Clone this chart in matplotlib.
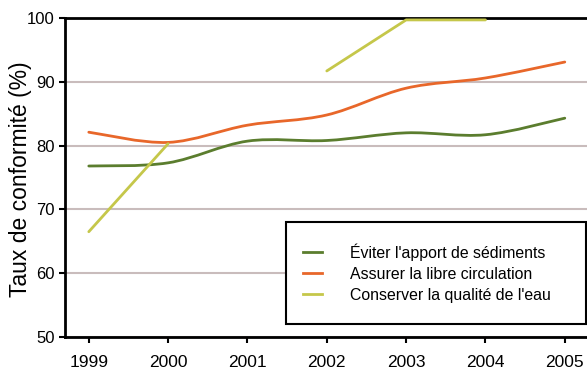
import matplotlib
matplotlib.use("Agg")
import matplotlib.pyplot as plt
from matplotlib.path import Path
from matplotlib.patches import PathPatch, Rectangle
from matplotlib.lines import Line2D
import numpy as np

plt.rcParams['font.family'] = ['Liberation Sans', 'DejaVu Sans']

years = [1999, 2000, 2001, 2002, 2003, 2004, 2005]
sediments = [76.8, 77.3, 80.7, 80.8, 82.0, 81.7, 84.3]
circulation = [82.1, 80.5, 83.2, 84.8, 89.0, 90.6, 93.1]
qualite = [66.5, 80.3, None, 91.7, 99.7, 99.7, None]

labels = ["Éviter l'apport de sédiments",
          "Assurer la libre circulation",
          "Conserver la qualité de l'eau"]
colors = ["#5b7d2e", "#e8672a", "#c5c74a"]

yticks = [50, 60, 70, 80, 90, 100]

W, H = 587, 370
fig = plt.figure(figsize=(W / 100, H / 100), dpi=100)
ax_l, ax_r, ax_t, ax_b = 65, 587, 18, 337
ax = fig.add_axes([ax_l / W, 1 - ax_b / H, (ax_r - ax_l) / W, (ax_b - ax_t) / H])
aw, ah = ax_r - ax_l, ax_b - ax_t


def smooth_path(x, y):
    x = np.asarray(x, float)
    y = np.asarray(y, float)
    pts = np.column_stack([x, y])
    n = len(pts)
    verts = [pts[0]]
    codes = [Path.MOVETO]
    for i in range(n - 1):
        p0 = pts[i - 1] if i > 0 else pts[i]
        p1 = pts[i]
        p2 = pts[i + 1]
        p3 = pts[i + 2] if i + 2 < n else pts[i + 1]
        c1 = p1 + (p2 - p0) / 6.0
        c2 = p2 - (p3 - p1) / 6.0
        verts += [c1, c2, p2]
        codes += [Path.CURVE4] * 3
    return Path(verts, codes)


for vals, c in [(sediments, colors[0]), (circulation, colors[1])]:
    patch = PathPatch(smooth_path(years, vals), facecolor='none', edgecolor=c,
                      lw=2.0, transform=ax.transData, zorder=3, capstyle='round')
    ax.add_patch(patch)

qy = [np.nan if v is None else v for v in qualite]
ax.plot(years, qy, color=colors[2], lw=2.0, zorder=3, solid_capstyle='round')

ax.set_xlim(1998.7, 2005.28)
ax.set_ylim(50, 100)
ax.set_yticks(yticks)
ax.set_xticks(years)
ax.set_xticklabels([str(y) for y in years])
ax.yaxis.grid(True, color='#c9bcbc', lw=1.5)
ax.set_axisbelow(True)

for s in ['left', 'bottom', 'top']:
    ax.spines[s].set_linewidth(2.0)
    ax.spines[s].set_color('black')
ax.spines['right'].set_visible(False)
ax.tick_params(axis='both', direction='out', length=4, width=1.5, colors='black')
ax.tick_params(axis='y', pad=3.5, labelsize=12)
ax.tick_params(axis='x', pad=9, labelsize=12.5)

ax.set_ylabel("Taux de conformité (%)", fontsize=16.5)
ax.yaxis.set_label_coords((32 - ax_l) / aw, (ax_b - 179) / ah)

# legend frame
fx0, fx1, fy0, fy1 = 286, 586, 222, 324
rect = Rectangle(((fx0 - ax_l) / aw, (ax_b - fy1) / ah), (fx1 - fx0) / aw, (fy1 - fy0) / ah,
                 transform=ax.transAxes, facecolor='white', edgecolor='black', lw=1.5,
                 zorder=5, clip_on=False)
ax.add_patch(rect)

handles = [Line2D([0], [0], color=c, lw=2.0) for c in colors]
leg = ax.legend(handles, labels, loc='center left',
                bbox_to_anchor=((303 - ax_l) / aw, (ax_b - 273) / ah),
                frameon=False, fontsize=11.4,
                handlelength=1.2, handletextpad=1.8, borderpad=0.0,
                labelspacing=0.38, borderaxespad=0.0)
leg.set_zorder(6)

fig.savefig("out.png", dpi=100)
